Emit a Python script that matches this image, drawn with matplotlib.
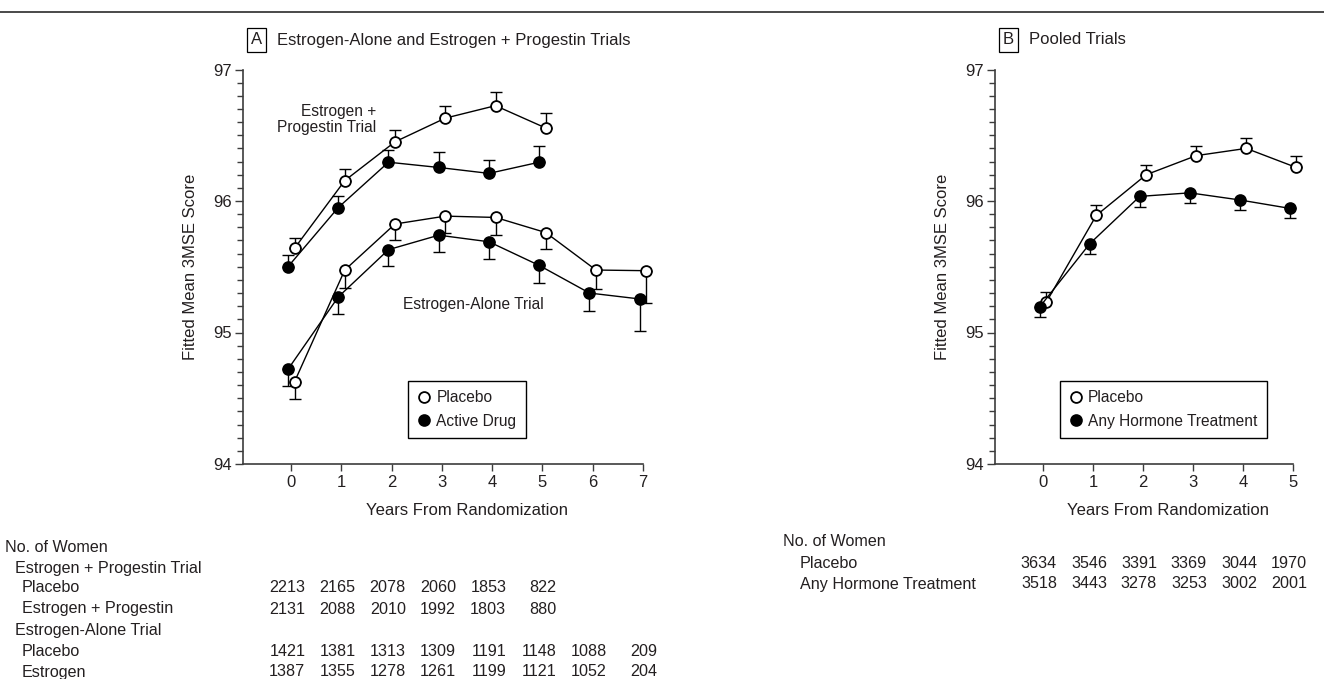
import matplotlib
matplotlib.use("Agg")
import matplotlib.pyplot as plt
import matplotlib.transforms as mtransforms
from matplotlib.lines import Line2D
from matplotlib.ticker import MultipleLocator

plt.rcParams['font.family'] = ['Liberation Sans', 'DejaVu Sans']
plt.rcParams['text.color'] = '#231f20'
plt.rcParams['axes.labelcolor'] = '#231f20'
plt.rcParams['xtick.color'] = '#231f20'
plt.rcParams['ytick.color'] = '#231f20'

# Panel A: estrogen + progestin trial (years 0-5) and estrogen-alone trial (years 0-7)
years_ep = [0, 1, 2, 3, 4, 5]
ep_placebo = [95.64, 96.155, 96.45, 96.63, 96.725, 96.555]
ep_placebo_se = [0.075, 0.09, 0.09, 0.09, 0.105, 0.113]
ep_active = [95.50, 95.95, 96.295, 96.255, 96.21, 96.295]
ep_active_se = [0.086, 0.09, 0.095, 0.116, 0.10, 0.12]

years_ea = [0, 1, 2, 3, 4, 5, 6, 7]
ea_placebo = [94.625, 95.475, 95.825, 95.885, 95.875, 95.76, 95.475, 95.47]
ea_placebo_se = [0.127, 0.139, 0.122, 0.127, 0.13, 0.127, 0.144, 0.247]
ea_active = [94.72, 95.27, 95.63, 95.74, 95.69, 95.51, 95.30, 95.255]
ea_active_se = [0.127, 0.13, 0.124, 0.126, 0.134, 0.13, 0.14, 0.241]

# Panel B: pooled trials
years_pool = [0, 1, 2, 3, 4, 5]
pool_placebo = [95.23, 95.89, 96.20, 96.345, 96.40, 96.255]
pool_placebo_se = [0.075, 0.077, 0.077, 0.07, 0.077, 0.09]
pool_active = [95.195, 95.675, 96.035, 96.062, 96.008, 95.944]
pool_active_se = [0.077, 0.075, 0.08, 0.075, 0.08, 0.076]

# No. of women tables
table_a_rows = [
    ("No. of Women", 0, None),
    ("Estrogen + Progestin Trial", 1, None),
    ("Placebo", 2, [2213, 2165, 2078, 2060, 1853, 822]),
    ("Estrogen + Progestin", 2, [2131, 2088, 2010, 1992, 1803, 880]),
    ("Estrogen-Alone Trial", 1, None),
    ("Placebo", 2, [1421, 1381, 1313, 1309, 1191, 1148, 1088, 209]),
    ("Estrogen", 2, [1387, 1355, 1278, 1261, 1199, 1121, 1052, 204]),
]
table_b_rows = [
    ("No. of Women", 0, None),
    ("Placebo", 2, [3634, 3546, 3391, 3369, 3044, 1970]),
    ("Any Hormone Treatment", 2, [3518, 3443, 3278, 3253, 3002, 2001]),
]

W, H = 1324, 679
fig = plt.figure(figsize=(W / 100, H / 100), dpi=100)

# top rule
fig.add_artist(Line2D([0, 1], [1 - 12 / H, 1 - 12 / H], color='#3a3a3a', lw=1.3))

FS = 12        # axis text
FS_T = 11.6    # table
FS_L = 11.2    # legend / annotations
OFF = 0.065
AX_COLOR = '#3c3c3c'


def fx(px):
    return px / W


def fy(py):
    return 1 - py / H


def draw_series(ax, xs, ys, se, up, filled, off):
    x = [v + off for v in xs]
    zeros = [0] * len(se)
    yerr = [zeros, se] if up else [se, zeros]
    ax.errorbar(x, ys, yerr=yerr, fmt='none', ecolor='black', elinewidth=1,
                capsize=4.3, capthick=1, zorder=2, clip_on=False)
    ax.plot(x, ys, color='black', lw=1, marker='o', ms=7.8, mew=1.3,
            mec='black', mfc='black' if filled else 'white', zorder=3, clip_on=False)


def style_axes(ax, xmax):
    ax.set_xlim(-0.96, xmax)
    ax.set_ylim(94, 97)
    for s in ['top', 'right']:
        ax.spines[s].set_visible(False)
    for s in ['left', 'bottom']:
        ax.spines[s].set_color(AX_COLOR)
        ax.spines[s].set_linewidth(1.2)
    ax.set_xticks(range(0, xmax + 1))
    ax.set_yticks([94, 95, 96, 97])
    ax.yaxis.set_minor_locator(MultipleLocator(0.1))
    ax.tick_params(axis='x', length=5, width=1, color=AX_COLOR, labelsize=FS, pad=3)
    ax.tick_params(axis='y', which='major', length=6, width=1, color=AX_COLOR, labelsize=FS, pad=2)
    ax.tick_params(axis='y', which='minor', length=4, width=1, color=AX_COLOR)
    ax.set_facecolor('none')


def panel_title(letter, x_px, text):
    fig.text(fx(x_px + 11.5), fy(40), letter, ha='center', va='center', fontsize=FS,
             bbox=dict(boxstyle='square,pad=0.25', fc='white', ec='black', lw=0.9))
    fig.text(fx(x_px + 32), fy(40), text, ha='left', va='center', fontsize=FS)


def draw_table(ax, rows, row_y, x_left):
    trans = mtransforms.blended_transform_factory(ax.transData, fig.transFigure)
    indents = [0, 10, 17]
    for (label, level, counts), y in zip(rows, row_y):
        fig.text(fx(x_left + indents[level]), fy(y), label, ha='left', va='center', fontsize=FS_T)
        if counts:
            for yr, n in enumerate(counts):
                ax.text(yr + 0.28, fy(y), str(n), transform=trans, ha='right', va='center',
                        fontsize=FS_T, clip_on=False)


def make_legend(ax, labels, cx):
    handles = [Line2D([], [], ls='none', marker='o', ms=7.8, mew=1.3, mec='black', mfc='white'),
               Line2D([], [], ls='none', marker='o', ms=7.8, mew=1.3, mec='black', mfc='black')]
    leg = ax.legend(handles, labels, loc='center',
                    bbox_to_anchor=(fx(cx), fy(409.5)), bbox_transform=fig.transFigure,
                    fancybox=False, edgecolor='black', fontsize=FS_L, handlelength=0.8,
                    handletextpad=0.4, borderpad=0.6, labelspacing=0.55, framealpha=1,
                    borderaxespad=0)
    leg.get_frame().set_linewidth(1)


# ---------- Panel A ----------
axA = fig.add_axes([fx(243), fy(464), fx(643) - fx(243), fy(69.5) - fy(464)])
style_axes(axA, 7)
draw_series(axA, years_ep, ep_placebo, ep_placebo_se, True, False, OFF)
draw_series(axA, years_ep, ep_active, ep_active_se, True, True, -OFF)
draw_series(axA, years_ea, ea_placebo, ea_placebo_se, False, False, OFF)
draw_series(axA, years_ea, ea_active, ea_active_se, False, True, -OFF)

axA.set_ylabel("Fitted Mean 3MSE Score", fontsize=FS)
axA.yaxis.set_label_coords(-0.112, 0.5)
axA.set_xlabel("Years From Randomization", fontsize=FS)
axA.xaxis.set_label_coords(3.5, -0.099,
                           transform=mtransforms.blended_transform_factory(axA.transData, axA.transAxes))

axA.text(1.7, 96.62, "Estrogen +\nProgestin Trial", ha='right', va='center', fontsize=FS_L,
         linespacing=1.15)
axA.text(3.63, 95.21, "Estrogen-Alone Trial", ha='center', va='center', fontsize=FS_L)

make_legend(axA, ["Placebo", "Active Drug"], 467)

panel_title("A", 245, "Estrogen-Alone and Estrogen + Progestin Trials")
draw_table(axA, table_a_rows, [548, 568, 588, 609, 631, 652, 672], 5)

# ---------- Panel B ----------
axB = fig.add_axes([fx(995), fy(464), fx(1293) - fx(995), fy(69.5) - fy(464)])
style_axes(axB, 5)
draw_series(axB, years_pool, pool_placebo, pool_placebo_se, True, False, OFF)
draw_series(axB, years_pool, pool_active, pool_active_se, False, True, -OFF)

axB.set_ylabel("Fitted Mean 3MSE Score", fontsize=FS)
axB.yaxis.set_label_coords(-0.15, 0.5)
axB.set_xlabel("Years From Randomization", fontsize=FS)
axB.xaxis.set_label_coords(2.5, -0.099,
                           transform=mtransforms.blended_transform_factory(axB.transData, axB.transAxes))

make_legend(axB, ["Placebo", "Any Hormone Treatment"], 1163.5)

panel_title("B", 997, "Pooled Trials")
draw_table(axB, table_b_rows, [541, 563, 584], 783)

fig.savefig("out.png", dpi=100)
